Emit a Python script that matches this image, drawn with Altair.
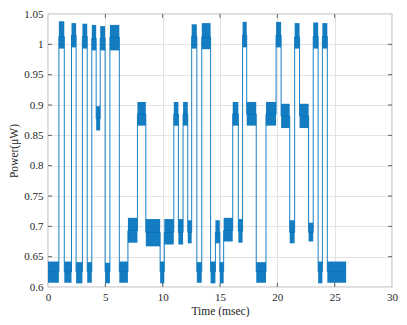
import altair as alt
import pandas as pd

# segment boundaries (msec)
bounds = [0, 0.95, 1.42, 2.05, 2.45, 3.0, 3.42, 3.82, 4.2, 4.55, 4.98, 5.4, 6.22, 6.97,
          7.8, 8.53, 9.78, 10.14, 10.97, 11.37, 11.78, 12.19, 12.53, 12.98, 13.41, 14.18,
          14.6, 14.98, 15.32, 16.11, 16.6, 16.97, 17.33, 18.16, 19.01, 19.89, 20.33, 21.08,
          21.51, 21.94, 22.73, 23.13, 23.56, 23.93, 24.36, 26.0]
# mean level of each segment (µW)
seg_level = [0.625, 1.013, 0.625, 1.015, 0.625, 1.013, 0.625, 1.01, 0.877, 1.01, 0.625,
             1.012, 0.625, 0.693, 0.885, 0.69, 0.625, 0.69, 0.885, 0.69, 0.885, 0.69,
             1.013, 0.625, 1.012, 0.625, 0.69, 0.625, 0.693, 0.885, 0.692, 1.015, 0.885,
             0.625, 0.885, 1.015, 0.882, 0.69, 1.012, 0.882, 0.69, 1.013, 0.625, 1.013, 0.625]
# noise envelope of each segment
seg_lo = [0.607, 0.993, 0.607, 0.995, 0.606, 0.993, 0.607, 0.99, 0.858, 0.99, 0.606,
          0.99, 0.607, 0.673, 0.866, 0.667, 0.606, 0.67, 0.866, 0.67, 0.866, 0.672,
          0.993, 0.607, 0.992, 0.606, 0.672, 0.606, 0.675, 0.866, 0.673, 0.995, 0.866,
          0.607, 0.866, 0.995, 0.862, 0.672, 0.993, 0.862, 0.675, 0.993, 0.606, 0.993, 0.607]
seg_hi = [0.642, 1.038, 0.642, 1.035, 0.641, 1.034, 0.641, 1.032, 0.898, 1.03, 0.64,
          1.032, 0.642, 0.714, 0.905, 0.712, 0.642, 0.712, 0.905, 0.712, 0.905, 0.71,
          1.033, 0.641, 1.035, 0.642, 0.71, 0.641, 0.714, 0.905, 0.712, 1.037, 0.905,
          0.641, 0.905, 1.037, 0.902, 0.71, 1.035, 0.902, 0.706, 1.036, 0.642, 1.035, 0.642]

x_ticks = [0, 5, 10, 15, 20, 25, 30]
y_ticks = [0.6, 0.65, 0.7, 0.75, 0.8, 0.85, 0.9, 0.95, 1.0, 1.05]

BLUE = "#0072BD"
W, H = 344, 273
FONT = "Liberation Serif"

seg_df = pd.DataFrame({
    "t0": bounds[:-1], "t1": bounds[1:],
    "lo": seg_lo, "hi": seg_hi, "lev": seg_level,
})
rows = []
k = 0
for i in range(len(seg_level)):
    rows.append({"t": bounds[i], "p": seg_level[i], "o": k}); k += 1
    rows.append({"t": bounds[i + 1], "p": seg_level[i], "o": k}); k += 1
line_df = pd.DataFrame(rows)

xs = alt.Scale(domain=[0, 30], nice=False)
ys = alt.Scale(domain=[0.6, 1.05], nice=False, zero=False)

common = dict(grid=True, gridColor="#e3e3e3", tickSize=0, domain=False,
              labelFont=FONT, titleFont=FONT, labelFontSize=11, titleFontSize=11.5,
              labelColor="#262626", titleColor="#262626", titleFontWeight="normal",
              labelOverlap=False, labelFlush=False)
x_axis = alt.Axis(values=x_ticks, title="Time (msec)", labelPadding=4, titlePadding=3,
                  format="d", **common)
y_axis = alt.Axis(values=y_ticks, title="Power(μW)", labelPadding=5, titlePadding=4,
                  format="~g", **common)

base_line = alt.Chart(line_df).mark_line(color=BLUE, strokeWidth=0.9, interpolate="linear").encode(
    x=alt.X("t:Q", scale=xs, axis=x_axis),
    y=alt.Y("p:Q", scale=ys, axis=y_axis),
    order="o:Q",
)
bands = alt.Chart(seg_df).mark_rect(color=BLUE, opacity=0.92).encode(
    x=alt.X("t0:Q", scale=xs, axis=x_axis), x2="t1:Q",
    y=alt.Y("lo:Q", scale=ys, axis=y_axis), y2="hi:Q",
)

xt_df = pd.DataFrame({"v": x_ticks[1:-1]})
yt_df = pd.DataFrame({"v": y_ticks[1:-1]})
tb = alt.Chart(xt_df).mark_rule(color="#262626", strokeWidth=0.7).encode(
    x=alt.X("v:Q", scale=xs, axis=x_axis), y=alt.value(H), y2=alt.value(H - 4))
tt = alt.Chart(xt_df).mark_rule(color="#262626", strokeWidth=0.7).encode(
    x=alt.X("v:Q", scale=xs, axis=x_axis), y=alt.value(0), y2=alt.value(4))
tl = alt.Chart(yt_df).mark_rule(color="#262626", strokeWidth=0.7).encode(
    y=alt.Y("v:Q", scale=ys, axis=y_axis), x=alt.value(0), x2=alt.value(4))
tr = alt.Chart(yt_df).mark_rule(color="#262626", strokeWidth=0.7).encode(
    y=alt.Y("v:Q", scale=ys, axis=y_axis), x=alt.value(W), x2=alt.value(W - 4))

chart = alt.layer(base_line, bands, tb, tt, tl, tr).properties(
    width=W, height=H,
    background="white",
    autosize=alt.AutoSizeParams(type="none"),
    padding={"left": 40, "top": 6, "right": 7, "bottom": 30},
).configure_view(stroke="#262626", strokeWidth=0.8)

chart.save("out.html", embed_options={"renderer": "svg", "actions": False})
